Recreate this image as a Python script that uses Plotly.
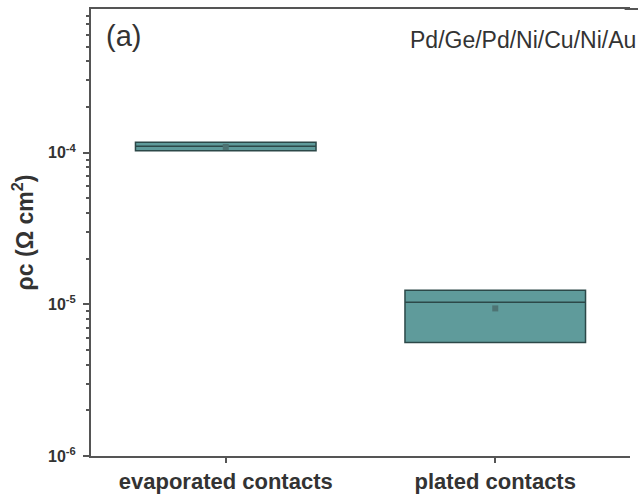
import plotly.graph_objects as go

categories = ["evaporated contacts", "plated contacts"]
q1 = [1.03e-4, 5.6e-6]
median = [1.10e-4, 1.03e-5]
q3 = [1.17e-4, 1.24e-5]
mean = [1.09e-4, 9.4e-6]
y_tickvals = [1e-6, 1e-5, 1e-4]
y_ticktext = ["<b>10<sup>-6</sup></b>", "<b>10<sup>-5</sup></b>", "<b>10<sup>-4</sup></b>"]
x_ticktext = ["<b>evaporated contacts</b>", "<b>plated contacts</b>"]

FONT = "Arial, Liberation Sans, sans-serif"

fig = go.Figure()
fig.add_trace(go.Box(
    x=categories, q1=q1, median=median, q3=q3,
    lowerfence=q1, upperfence=q3,
    fillcolor="#5f9b9b", line=dict(color="#2c4848", width=1.5),
    width=0.67, boxpoints=False, showlegend=False,
))
fig.add_trace(go.Scatter(
    x=categories, y=mean, mode="markers",
    marker=dict(symbol="square", size=6, color="#4d7373"),
    showlegend=False,
))

fig.update_layout(
    width=638, height=496,
    margin=dict(l=91, r=8, t=9, b=40, autoexpand=False),
    paper_bgcolor="white", plot_bgcolor="white",
    font=dict(family=FONT, color="#333"),
    boxmode="overlay",
)
fig.update_xaxes(
    type="category", range=[-0.5, 1.5], automargin=False,
    showline=True, linecolor="#555", linewidth=2, mirror=True,
    ticks="outside", ticklen=5, tickcolor="#555", tickwidth=1.5,
    tickvals=categories, ticktext=x_ticktext,
    tickfont=dict(size=22, family=FONT, color="#333"),
    showgrid=False, zeroline=False,
)
fig.update_yaxes(
    type="log", range=[-6, -3.053], automargin=False,
    showline=True, linecolor="#555", linewidth=2, mirror=False,
    ticks="outside", ticklen=6, tickcolor="#555", tickwidth=1.5,
    tickvals=y_tickvals, ticktext=y_ticktext,
    tickfont=dict(size=16, family=FONT, color="#333"),
    ticklabelstandoff=4,
    minor=dict(ticks="outside", ticklen=3, tickcolor="#555", dtick="D1", showgrid=False),
    showgrid=False, zeroline=False,
    title=dict(text="<b>ρc (Ω cm<sup>2</sup>)</b>", font=dict(size=23, family=FONT, color="#333"), standoff=8),
)

# extend the top frame line to the right edge of the picture
fig.add_shape(type="line", xref="paper", yref="paper", x0=0.99, x1=1.02, y0=1, y1=1,
              line=dict(color="#555", width=2))

fig.add_annotation(text="(a)", xref="paper", yref="paper", x=0.025, y=0.98,
                   xanchor="left", yanchor="top", showarrow=False,
                   font=dict(size=29, family=FONT, color="#333"))
fig.add_annotation(text="Pd/Ge/Pd/Ni/Cu/Ni/Au", xref="paper", yref="paper", x=1.015, y=0.965,
                   xanchor="right", yanchor="top", showarrow=False,
                   font=dict(size=23, family=FONT, color="#333"))

fig.write_html("out.html")
